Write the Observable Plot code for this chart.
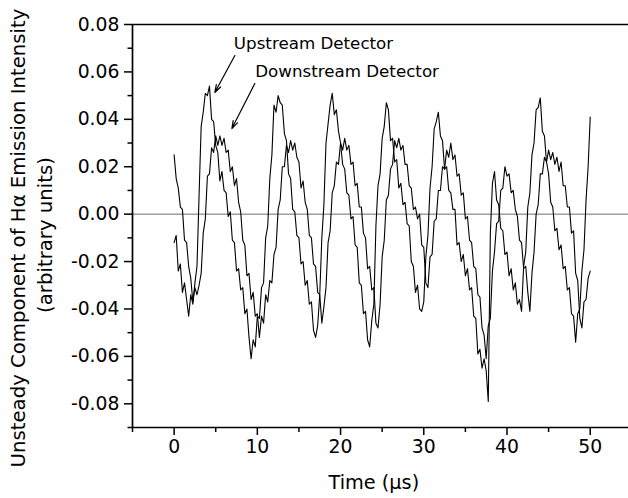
<!DOCTYPE html>
<html><head><meta charset="utf-8">
<script src="https://cdn.jsdelivr.net/npm/d3@7"></script>
<script src="https://cdn.jsdelivr.net/npm/@observablehq/plot@0.6"></script>
<style>body{margin:0;background:#fff} svg{display:block}</style>
</head><body><div id="chart"></div>
<script>
const timeUs = [0,0.25,0.5,0.75,1,1.25,1.5,1.75,2,2.25,2.5,2.75,3,3.25,3.5,3.75,4,4.25,4.5,4.75,5,5.25,5.5,5.75,6,6.25,6.5,6.75,7,7.25,7.5,7.75,8,8.25,8.5,8.75,9,9.25,9.5,9.75,10,10.25,10.5,10.75,11,11.25,11.5,11.75,12,12.25,12.5,12.75,13,13.25,13.5,13.75,14,14.25,14.5,14.75,15,15.25,15.5,15.75,16,16.25,16.5,16.75,17,17.25,17.5,17.75,18,18.25,18.5,18.75,19,19.25,19.5,19.75,20,20.25,20.5,20.75,21,21.25,21.5,21.75,22,22.25,22.5,22.75,23,23.25,23.5,23.75,24,24.25,24.5,24.75,25,25.25,25.5,25.75,26,26.25,26.5,26.75,27,27.25,27.5,27.75,28,28.25,28.5,28.75,29,29.25,29.5,29.75,30,30.25,30.5,30.75,31,31.25,31.5,31.75,32,32.25,32.5,32.75,33,33.25,33.5,33.75,34,34.25,34.5,34.75,35,35.25,35.5,35.75,36,36.25,36.5,36.75,37,37.25,37.5,37.75,38,38.25,38.5,38.75,39,39.25,39.5,39.75,40,40.25,40.5,40.75,41,41.25,41.5,41.75,42,42.25,42.5,42.75,43,43.25,43.5,43.75,44,44.25,44.5,44.75,45,45.25,45.5,45.75,46,46.25,46.5,46.75,47,47.25,47.5,47.75,48,48.25,48.5,48.75,49,49.25,49.5,49.75,50];

const upstream = [
-0.012,-0.009,-0.024,-0.021,-0.033,-0.029,-0.036,-0.043,
-0.034,-0.038,-0.029,-0.022,0.008,0.037,0.043,0.051,
0.050,0.054,0.040,0.039,0.029,0.026,0.014,0.018,
0.010,0.009,-0.001,0.001,-0.011,-0.012,-0.024,-0.023,
-0.032,-0.031,-0.042,-0.040,-0.052,-0.061,-0.053,-0.056,
-0.043,-0.044,-0.031,-0.029,-0.010,-0.005,0.015,0.025,
0.046,0.043,0.050,0.047,0.046,0.034,0.031,0.017,
0.015,0.002,0.001,-0.009,-0.010,-0.021,-0.020,-0.030,
-0.028,-0.038,-0.037,-0.049,-0.052,-0.047,-0.034,-0.010,
0.004,0.030,0.038,0.046,0.051,0.042,0.044,0.035,
0.030,0.021,0.019,0.009,0.008,-0.002,-0.001,-0.013,
-0.014,-0.029,-0.030,-0.042,-0.041,-0.053,-0.056,-0.045,
-0.038,-0.005,0.012,0.017,0.032,0.037,0.047,0.044,
0.031,0.032,0.022,0.023,0.011,0.013,0.004,0.005,
-0.004,-0.005,-0.020,-0.022,-0.033,-0.030,-0.040,-0.041,
-0.037,-0.018,-0.009,0.011,0.020,0.036,0.039,0.043,
0.033,0.031,0.019,0.020,0.010,0.009,0.002,0.002,
-0.013,-0.012,-0.020,-0.017,-0.026,-0.023,-0.032,-0.031,
-0.043,-0.044,-0.059,-0.057,-0.065,-0.061,-0.066,-0.079,
-0.008,0.013,0.018,0.006,0.004,-0.006,-0.007,-0.017,
-0.016,-0.026,-0.023,-0.032,-0.029,-0.038,-0.036,-0.041,
-0.022,-0.016,0.003,0.009,0.025,0.030,0.044,0.045,
0.049,0.035,0.033,0.022,0.017,0.005,0.003,-0.007,
-0.006,-0.015,-0.013,-0.023,-0.022,-0.032,-0.031,-0.042,
-0.043,-0.054,-0.042,-0.040,-0.024,-0.015,0.006,0.020,
0.041];

const downstream = [
0.025,0.015,0.011,0.003,0.002,-0.011,-0.012,-0.022,
-0.027,-0.037,-0.031,-0.034,-0.030,-0.025,-0.008,-0.002,
0.016,0.017,0.028,0.026,0.033,0.029,0.033,0.029,
0.032,0.026,0.027,0.018,0.020,0.012,0.015,0.005,
0.001,-0.011,-0.013,-0.026,-0.025,-0.036,-0.033,-0.043,
-0.042,-0.052,-0.043,-0.046,-0.034,-0.037,-0.028,-0.029,
-0.017,-0.014,0.002,0.006,0.020,0.020,0.029,0.026,
0.031,0.027,0.030,0.024,0.022,0.011,0.014,0.005,
0.002,-0.009,-0.010,-0.021,-0.022,-0.033,-0.034,-0.046,
-0.039,-0.031,-0.012,-0.007,0.009,0.012,0.022,0.021,
0.030,0.027,0.032,0.027,0.029,0.021,0.022,0.012,
0.013,0.003,0.003,-0.008,-0.010,-0.023,-0.022,-0.032,
-0.031,-0.046,-0.048,-0.038,-0.018,-0.011,0.006,0.008,
0.019,0.021,0.031,0.028,0.032,0.027,0.029,0.021,
0.021,0.012,0.011,0.002,0.003,-0.002,0.000,-0.013,
-0.014,-0.029,-0.031,-0.018,-0.017,-0.003,-0.002,0.010,
0.010,0.020,0.019,0.027,0.024,0.030,0.023,0.025,
0.016,0.017,0.008,0.009,-0.002,-0.001,-0.011,-0.012,
-0.022,-0.023,-0.034,-0.035,-0.048,-0.051,-0.061,-0.047,
-0.044,-0.024,-0.016,-0.004,-0.003,0.010,0.011,0.020,
0.016,0.017,0.009,0.010,0.002,-0.001,-0.011,-0.012,
-0.023,-0.022,-0.033,-0.041,-0.025,-0.016,0.000,0.004,
0.017,0.017,0.024,0.022,0.027,0.023,0.026,0.021,
0.024,0.018,0.022,0.012,0.012,0.003,0.003,-0.008,
-0.007,-0.025,-0.028,-0.044,-0.048,-0.037,-0.036,-0.027,
-0.024];

const xTicks = [0, 10, 20, 30, 40, 50];
const xMinorTicks = [-5, 5, 15, 25, 35, 45];
const yTicks = [-0.08, -0.06, -0.04, -0.02, 0, 0.02, 0.04, 0.06, 0.08];
const yMinorTicks = [-0.09, -0.07, -0.05, -0.03, -0.01, 0.01, 0.03, 0.05, 0.07];
const seriesNames = ["Upstream Detector", "Downstream Detector"];
const xTitle = "Time (μs)";
const yTitle = ["Unsteady Component of Hα Emission Intensity", "(arbitrary units)"];

// annotation anchors (data units)
const labelTime = [7.18, 9.74];
const labelValue = [0.0718, 0.0601];
const arrowStart = [[7.30, 0.0669], [9.70, 0.0551]];
const arrowEnd = [[4.89, 0.0513], [6.94, 0.0361]];
const xTitleAt = [24];

const chart = Plot.plot({
  width: 628,
  height: 498,
  marginLeft: 132,
  marginRight: 0,
  marginTop: 24,
  marginBottom: 71,
  style: {fontFamily: "DejaVu Sans", fontSize: "18.8px", color: "black", background: "white", overflow: "visible"},
  x: {domain: [-5, 54.6]},
  y: {domain: [-0.09, 0.08]},
  marks: [
    Plot.ruleY([0], {stroke: "#6e6e6e", strokeWidth: 1}),
    Plot.line(upstream, {x: timeUs, y: upstream, stroke: "black", strokeWidth: 1.1}),
    Plot.line(downstream, {x: timeUs, y: downstream, stroke: "black", strokeWidth: 1.1}),
    Plot.ruleX([-5], {stroke: "black", strokeWidth: 1.7}),
    Plot.ruleY([-0.09, 0.08], {stroke: "black", strokeWidth: 1.7}),
    Plot.axisX(xTicks, {tickSize: 8, tickPadding: 4, tickFormat: d => String(d), label: null, strokeWidth: 1.5}),
    Plot.axisX(xMinorTicks, {tickSize: 5, tickFormat: () => "", label: null, strokeWidth: 1.5}),
    Plot.axisY(yTicks, {tickSize: 8, tickPadding: 5, tickFormat: d => d.toFixed(2), label: null, strokeWidth: 1.5}),
    Plot.axisY(yMinorTicks, {tickSize: 4.5, tickFormat: () => "", label: null, strokeWidth: 1.5}),
    Plot.text([xTitle], {x: xTitleAt, frameAnchor: "bottom", dy: 61, fontSize: 19.3}),
    Plot.text([yTitle[0]], {frameAnchor: "left", textAnchor: "middle", rotate: -90, dx: -114, dy: 12, fontSize: 19.7}),
    Plot.text([yTitle[1]], {frameAnchor: "left", textAnchor: "middle", rotate: -90, dx: -87, dy: 9, fontSize: 19.7}),
    Plot.text(seriesNames, {x: labelTime, y: labelValue, textAnchor: "start", fontSize: 16.7}),
    Plot.arrow(arrowStart, {
      x1: d => d[0], y1: d => d[1],
      x2: (d, i) => arrowEnd[i][0], y2: (d, i) => arrowEnd[i][1],
      stroke: "black", strokeWidth: 1.2, headLength: 10, headAngle: 35
    })
  ]
});
document.getElementById("chart").appendChild(chart);
</script>
</body></html>
